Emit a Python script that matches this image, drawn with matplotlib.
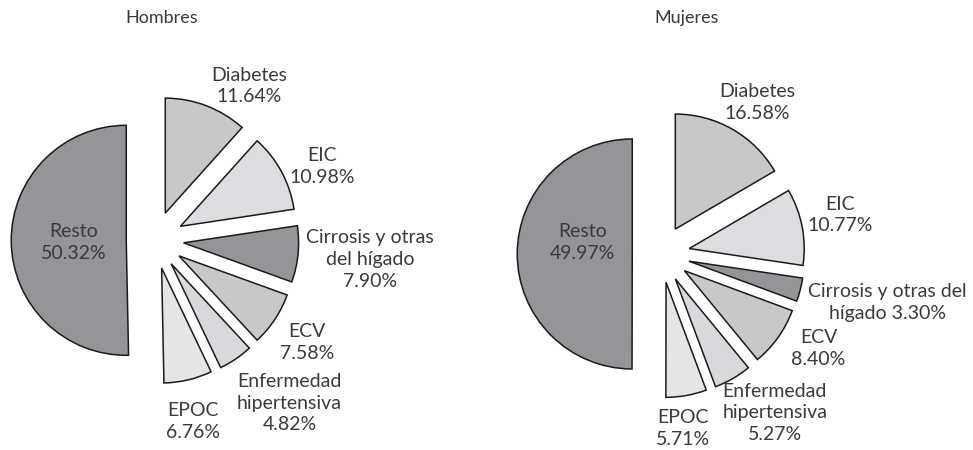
import matplotlib
matplotlib.use("Agg")
import matplotlib.pyplot as plt

plt.rcParams['font.family'] = ['Lato', 'DejaVu Sans']

# ---- data ----
categories = ["Diabetes", "EIC", "Cirrosis", "ECV", "Enfermedad hipertensiva", "EPOC", "Resto"]
hombres_vals = [11.64, 10.98, 7.90, 7.58, 4.82, 6.76, 50.32]
mujeres_vals = [16.58, 10.77, 3.30, 8.40, 5.27, 5.71, 49.97]
hombres_labels = ["Diabetes\n11.64%", "EIC\n10.98%", "Cirrosis y otras\ndel hígado\n7.90%",
                  "ECV\n7.58%", "Enfermedad\nhipertensiva\n4.82%", "EPOC\n6.76%", "Resto\n50.32%"]
mujeres_labels = ["Diabetes\n16.58%", "EIC\n10.77%", "Cirrosis y otras del\nhígado 3.30%",
                  "ECV\n8.40%", "Enfermedad\nhipertensiva\n5.27%", "EPOC\n5.71%", "Resto\n49.97%"]
titles = ["Hombres", "Mujeres"]

# ---- style ----
colors = ["#c7c8ca", "#dcdde0", "#939599", "#c7c8ca", "#d8d9dc", "#e4e5e7", "#939599"]
text_color = "#3a3a3a"
W, H = 973, 450
R = 115
explode = [0.25 * R] * 7   # pie explode offset is absolute (data units)

# label offsets (in radius units, relative to pie center)
h_label_pos = [(0.82, 1.34), (1.45, 0.64), (1.87, -0.17), (1.32, -0.89),
               (1.17, -1.42), (0.33, -1.58), (-0.71, -0.02)]
m_label_pos = [(0.84, 1.32), (1.56, 0.34), (1.97, -0.42), (1.37, -0.82),
               (0.99, -1.38), (0.19, -1.52), (-0.68, 0.10)]

fig = plt.figure(figsize=(W / 100, H / 100), dpi=100)
ax = fig.add_axes([0, 0, 1, 1])

pies = [
    (hombres_vals, hombres_labels, h_label_pos, (155, H - 240), (162, H - 18)),
    (mujeres_vals, mujeres_labels, m_label_pos, (661, H - 254), (687, H - 18)),
]

for (vals, labels, lpos, center, tpos), title in zip(pies, titles):
    ax.pie(vals, colors=colors, explode=explode, startangle=90, counterclock=False,
           radius=R, center=center,
           wedgeprops=dict(edgecolor="#1a1a1a", linewidth=1.1))
    for lab, (dx, dy) in zip(labels, lpos):
        ax.text(center[0] + dx * R, center[1] + dy * R, lab, ha="center", va="center",
                fontsize=14, color=text_color, linespacing=1.33)
    ax.text(tpos[0], tpos[1], title, ha="center", va="center", fontsize=13,
            color=text_color)

ax.set_xlim(0, W)
ax.set_ylim(0, H)
ax.set_aspect("equal")
ax.axis("off")

fig.savefig("out.png", dpi=100, facecolor="white")
